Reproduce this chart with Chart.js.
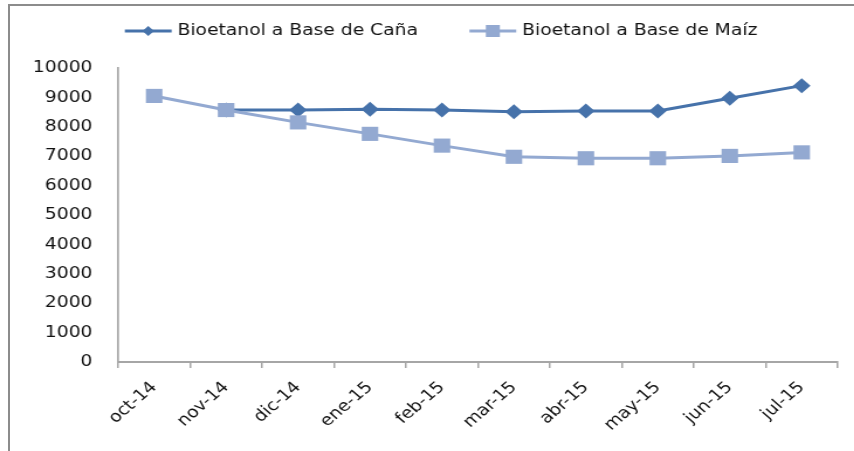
<!DOCTYPE html>
<html>
<head>
<meta charset="utf-8">
<script src="https://cdn.jsdelivr.net/npm/chart.js@4"></script>
<style>
html,body{margin:0;padding:0;background:#fff;overflow:hidden;width:854px;height:451px;}
#frame{position:absolute;left:8px;top:4px;width:900px;height:500px;border:2px solid #8c8c8c;box-sizing:border-box;}
#wrap{position:absolute;left:0;top:0;width:730px;height:451px;transform:scaleX(1.17);transform-origin:0 0;}
</style>
</head>
<body>
<div id="frame"></div>
<div id="wrap"><canvas id="c" width="730" height="451"></canvas></div>
<script>
const categories = ['oct-14','nov-14','dic-14','ene-15','feb-15','mar-15','abr-15','may-15','jun-15','jul-15'];
const canaLabel = 'Bioetanol a Base de Caña';
const maizLabel = 'Bioetanol a Base de Maíz';
const cana = [null, 8570, 8570, 8600, 8570, 8510, 8540, 8540, 8970, 9400];
const maiz = [9050, 8570, 8150, 7760, 7360, 6980, 6930, 6930, 7010, 7130];
const yTicks = [0,1000,2000,3000,4000,5000,6000,7000,8000,9000,10000];

const FONT = 'DejaVu Sans';
const darkBlue = '#4672aa';
const lightBlue = '#93a9d1';

const lineLegend = {
  id: 'lineLegend',
  afterDraw(chart) {
    const ctx = chart.ctx;
    ctx.save();
    ctx.font = '16px "' + FONT + '"';
    const lineW = 40, textGap = 5, itemGap = 44;
    const items = chart.data.datasets.map(ds => ({ds, w: ctx.measureText(ds.label).width}));
    let total = 0;
    items.forEach((it, i) => { total += lineW + textGap + it.w + (i ? itemGap : 0); });
    let x = 377 - total / 2;
    const y = 31;
    items.forEach((it, i) => {
      if (i) x += itemGap;
      const ds = it.ds;
      ctx.strokeStyle = ds.borderColor;
      ctx.lineWidth = 3;
      ctx.beginPath(); ctx.moveTo(x, y); ctx.lineTo(x + lineW, y); ctx.stroke();
      ctx.fillStyle = ds.pointBackgroundColor;
      const cx = x + lineW / 2;
      if (ds.pointStyle === 'rectRot') {
        const r = 5;
        ctx.beginPath(); ctx.moveTo(cx, y - r); ctx.lineTo(cx + r, y); ctx.lineTo(cx, y + r); ctx.lineTo(cx - r, y); ctx.closePath(); ctx.fill();
      } else {
        ctx.fillRect(cx - 6, y - 6, 12, 12);
      }
      ctx.fillStyle = '#111';
      ctx.textBaseline = 'middle';
      ctx.textAlign = 'left';
      ctx.fillText(ds.label, x + lineW + textGap, y);
      x += lineW + textGap + it.w;
    });
    ctx.restore();
  }
};

new Chart(document.getElementById('c'), {
  type: 'line',
  data: {
    labels: categories,
    datasets: [
      {label: canaLabel, data: cana, borderColor: darkBlue, backgroundColor: darkBlue,
       pointBackgroundColor: darkBlue, pointBorderColor: darkBlue, pointStyle: 'rectRot',
       pointRadius: 7.5, borderWidth: 3, pointBorderWidth: 0, order: 1, tension: 0},
      {label: maizLabel, data: maiz, borderColor: lightBlue, backgroundColor: lightBlue,
       pointBackgroundColor: lightBlue, pointBorderColor: lightBlue, pointStyle: 'rect',
       pointRadius: 10, borderWidth: 3, pointBorderWidth: 0, order: 0, tension: 0}
    ]
  },
  options: {
    responsive: false,
    animation: false,
    devicePixelRatio: 1,
    layout: {padding: {left: 0, top: 68, right: 14, bottom: 0}},
    plugins: {legend: {display: false}, tooltip: {enabled: false}},
    scales: {
      x: {
        offset: true,
        grid: {display: true, drawOnChartArea: false, drawTicks: true, tickLength: 6, offset: true, color: '#a6a6a6', lineWidth: 1.5},
        border: {display: true, color: '#a6a6a6', width: 2},
        ticks: {minRotation: 45, maxRotation: 45, padding: 10, color: '#111', font: {family: FONT, size: 16}, autoSkip: false},
        afterFit(s) { s.height = 89; }
      },
      y: {
        min: 0, max: 10000,
        afterBuildTicks(s) { s.ticks = yTicks.map(v => ({value: v})); },
        grid: {display: false},
        border: {display: true, color: '#a6a6a6', width: 1.7},
        ticks: {padding: 14, color: '#111', font: {family: FONT, size: 16}, callback: v => String(v)},
        afterFit(s) { s.width = 101; }
      }
    }
  },
  plugins: [lineLegend]
});
</script>
</body>
</html>
